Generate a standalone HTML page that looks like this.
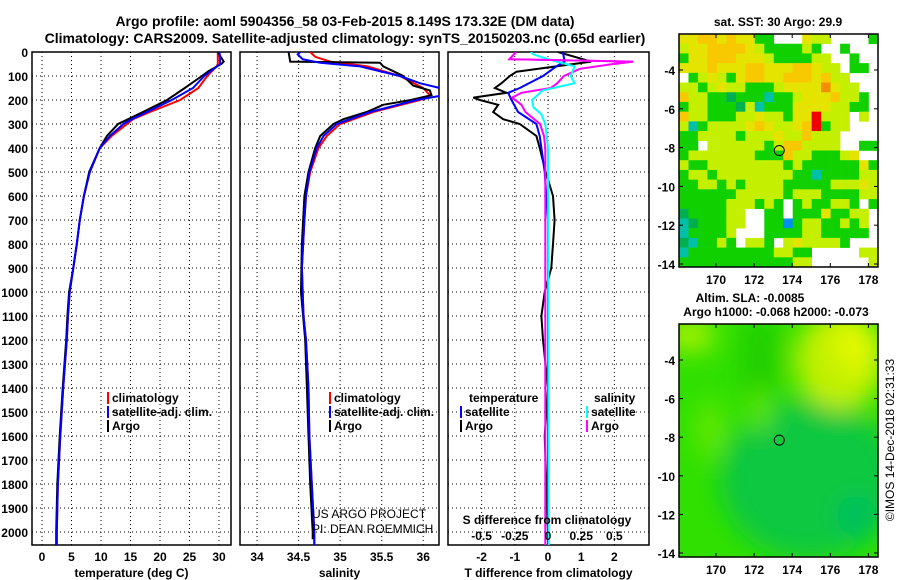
<!DOCTYPE html>
<html><head><meta charset="utf-8">
<style>
html,body{margin:0;padding:0;background:#fff;}
svg{display:block;font-family:"Liberation Sans",sans-serif;}
.b{font-weight:bold;font-size:12px;}
.t{font-weight:bold;font-size:14px;}
</style></head>
<body>
<svg id="s" width="900" height="580" viewBox="0 0 900 580" xmlns="http://www.w3.org/2000/svg">
<text class="t" x="345" y="26" text-anchor="middle">Argo profile: aoml 5904356_58 03-Feb-2015 8.149S 173.32E (DM data)</text>
<text class="t" x="345" y="43" text-anchor="middle">Climatology: CARS2009. Satellite-adjusted climatology: synTS_20150203.nc (0.65d earlier)</text>
<g id="g"></g>
</svg>
<script>
// ---- data ----
const tClimD = [0,50,60,100,150,200,250,280,300,350,400,500,600,700,800,900,1000,1100,1200,1400,1600,1800,2000,2055];
const tClimV = [29.8,29.8,29.6,28,26.5,23.4,18.3,15.4,14.4,11.8,9.8,8.1,7.1,6.4,5.9,5.3,4.7,4.4,4.2,3.6,3.1,2.7,2.5,2.5];
const tArgoD = [0,40,50,80,100,140,150,200,250,300,350,400,500,600,700,800,900,1000,1100,1200,1400,1600,1800,2000,2055];
const tArgoV = [29.8,30.8,30.4,28.2,27.1,24.8,24.2,21.2,17.1,12.9,11,9.8,8.0,7.1,6.4,5.9,5.3,4.6,4.3,4.1,3.5,3.0,2.6,2.4,2.4];
const tSatD = [0,50,100,150,200,250,280,300,350,400,500,600,700,800,900,1000,1100,1200,1400,1600,1800,2000,2055];
const tSatV = [30.1,30.2,27.5,25.6,22,17.8,15.2,13.8,11.5,9.8,8.1,7.1,6.4,5.9,5.3,4.7,4.4,4.2,3.6,3.1,2.7,2.5,2.5];

const sClimD = [0,20,40,60,100,150,180,200,250,300,350,400,500,600,700,900,1100,1200,1400,1600,1800,2000,2055];
const sClimV = [34.64,34.7,34.88,35.33,35.72,36.0,36.08,35.96,35.4,35.0,34.84,34.74,34.64,34.59,34.57,34.54,34.56,34.59,34.62,34.63,34.66,34.69,34.69];
const sArgoD = [0,40,45,60,100,140,160,180,200,220,250,280,300,350,400,500,600,800,1000,1200,1400,1600,1800,2000,2030];
const sArgoV = [34.38,34.4,35.48,35.52,35.76,35.88,36.08,36.1,35.85,35.52,35.32,35.04,34.92,34.76,34.7,34.62,34.57,34.54,34.53,34.58,34.6,34.62,34.64,34.67,34.67];
const sSatD = [0,10,30,45,60,100,130,150,180,200,250,300,350,400,500,600,700,900,1100,1200,1400,1600,1800,2000,2055];
const sSatV = [34.52,34.49,34.55,34.76,35.24,35.72,35.96,36.2,36.25,35.92,35.36,34.96,34.8,34.72,34.63,34.59,34.57,34.54,34.56,34.59,34.62,34.63,34.66,34.69,34.69];

const dTArgoD = [0,40,82,100,130,150,170,190,200,220,250,280,300,350,400,500,600,700,800,900,1000,1100,1200,1400,1600,1800,2000,2055];
const dTArgoV = [0.3,1.3,-0.95,-1.15,-1.4,-1.6,-1.25,-2.25,-2.05,-1.5,-1.65,-1.35,-0.85,-0.35,-0.25,-0.07,0.15,0.2,0.15,0.1,-0.1,-0.2,-0.15,0,-0.1,-0.05,0,0];
const dTSatD = [0,40,60,100,150,170,200,250,300,350,400,500,600,700,2055];
const dTSatV = [0.45,0.5,0.25,-0.15,-0.85,-1.2,-1.1,-0.9,-0.35,-0.25,-0.2,-0.1,-0.05,0,0];
const dSArgoD = [0,30,40,50,70,100,130,150,170,190,220,250,300,350,400,2055];
const dSArgoV = [-0.24,-0.29,0.64,0.49,0.24,0.12,0.07,0.02,-0.2,-0.27,-0.2,-0.17,-0.06,-0.03,-0.02,-0.02];
const dSSatD = [0,10,30,60,100,130,160,200,230,260,300,400,2055];
const dSSatV = [-0.13,-0.11,0,0.2,0.17,0.2,-0.04,-0.12,-0.11,-0.05,-0.02,0,0.005];

const depthTicks = [0,100,200,300,400,500,600,700,800,900,1000,1100,1200,1300,1400,1500,1600,1700,1800,1900,2000];
const tempTicks = [0,5,10,15,20,25,30];
const salTicks = [34,34.5,35,35.5,36];
const dTTicks = [-2,-1,0,1,2];
const dSTicks = [-0.5,-0.25,0,0.25,0.5];
const dSTickLabels = ["-0.5","-0.25","0","0.25","0.5"];
const lonTicks = [170,172,174,176,178];
const latTicks = [-4,-6,-8,-10,-12,-14];
const argoLon = 173.32, argoLat = -8.15;
// SST map categories (rows north->south, cols west->east)
const sstGrid = [
"YYooYoYYggwwwYyywwwwg",
"yYYooooYyggggygwwgwww",
"gYYoooYYYyggggyywwgww",
"YYYoYYYooYYYooYyywggw",
"wgyYygYooYYoooYoyywww",
"yygyYyygggyYYYYOYyyww",
"oyyggdgggcggyYYYoyygw",
"gyygggdycgggYYYYyyggw",
"oyygggyyYyygYYryyywyw",
"ycgyyyyYoYyyYorgyywww",
"ggyyyygyyyYyyoyyywwww",
"ggwyyyyyygyooyyyywwgg",
"gyyyyyyygggoyygggyYww",
"yggyyyyyyyygyggggggYg",
"gyygyyyyyyyyggcggggyy",
"ggyygygyyyygggggyyyYy",
"ggggggyyyyygyyyggggyy",
"gggggyyygygwgyggyygwg",
"dggggyywwggwgggYggyyw",
"cdgggyywwggbgyyggygyw",
"cggggywwwggggyygggggw",
"dcggygwyygwyYyyyygwww",
"cgggggggggyyggwwwwwyy",
"ggggggggggggyywwwwwwy"];
const sstColors = {y:"#c4f000",Y:"#e4e400",o:"#f8c800",O:"#f09000",r:"#f00000",g:"#10d000",d:"#00b050",c:"#00c0a8",b:"#0090f0",w:"#ffffff"};

// ---- helpers ----
const NS="http://www.w3.org/2000/svg";
const G=document.getElementById('g');
function mk(tag,attrs,parent,txt){const e=document.createElementNS(NS,tag);for(const k in attrs)e.setAttribute(k,attrs[k]);if(txt!==undefined)e.textContent=txt;(parent||G).appendChild(e);return e;}
const yD = d => 52 + d*0.24;
const PB = 545;
const xT = v => 42 + v*5.9;
const xS = v => 257 + (v-34)*83.1;
const xdT = v => 548 + v*33.2;
const xdS = v => 548 + v*132.8;

function panel(name,x0,x1,vticks,vx,labels,title,showDepth){
  const g=mk('g',{});
  
  
  depthTicks.forEach(d=>{ if(d>0) mk('line',{x1:x0,x2:x1,y1:yD(d),y2:yD(d),stroke:'#000','stroke-width':1,'stroke-dasharray':'1,3'},g);});
  vticks.forEach(v=>mk('line',{x1:vx(v),x2:vx(v),y1:52,y2:PB,stroke:'#000','stroke-width':1,'stroke-dasharray':'1,3'},g));
  const r=mk('rect',{x:x0,y:52,width:x1-x0,height:PB-52,fill:'none',stroke:'#000','stroke-width':1.5},g);
  
  
  vticks.forEach((v,i)=>{const t=mk('text',{x:vx(v),y:561,'text-anchor':'middle',class:'b'},g,labels[i]);
    
    });
  const tt=mk('text',{x:(x0+x1)/2,y:577,'text-anchor':'middle',class:'b'},g,title);
  
  
  if(showDepth) depthTicks.forEach(d=>{const t=mk('text',{x:28,y:yD(d)+5,'text-anchor':'end',class:'b'},g,String(d));
    
    });
  return g;
}
function line(name,D,V,xf,color,w,clipId){
  const pts=D.map((d,i)=>xf(V[i]).toFixed(1)+','+yD(d).toFixed(1)).join(' ');
  const p=mk('polyline',{points:pts,fill:'none',stroke:color,'stroke-width':w,'clip-path':'url(#'+clipId+')'});
  
  
}
const defs=mk('defs',{});
[['c1',32,231],['c2',240,439],['c3',448,649]].forEach(c=>{const cp=mk('clipPath',{id:c[0]},defs);mk('rect',{x:c[1],y:52,width:c[2]-c[1],height:PB-52},cp);});

panel('temperature-panel',32,231,tempTicks,xT,tempTicks.map(String),'temperature (deg C)',true);
line('temp-climatology-line',tClimD,tClimV,xT,'#f00',2,'c1');
line('temp-argo-line',tArgoD,tArgoV,xT,'#000',2,'c1');
line('temp-satellite-line',tSatD,tSatV,xT,'#00f',2,'c1');

panel('salinity-panel',240,439,salTicks,xS,salTicks.map(String),'salinity',false);
line('sal-climatology-line',sClimD,sClimV,xS,'#f00',2,'c2');
line('sal-argo-line',sArgoD,sArgoV,xS,'#000',2,'c2');
line('sal-satellite-line',sSatD,sSatV,xS,'#00f',2,'c2');

panel('difference-panel',448,649,dTTicks,xdT,dTTicks.map(String),'T difference from climatology',false);
line('dT-argo-line',dTArgoD,dTArgoV,xdT,'#000',2,'c3');
line('dT-satellite-line',dTSatD,dTSatV,xdT,'#00f',2,'c3');
line('dS-argo-line',dSArgoD,dSArgoV,xdS,'#f0f',2,'c3');
line('dS-satellite-line',dSSatD,dSSatV,xdS,'#0ff',2,'c3');
line('dS-argo-line-over',dSArgoD.slice(0,4),dSArgoV.slice(0,4),xdS,'#f0f',2,'c3');

{const t=mk('text',{x:547,y:524,'text-anchor':'middle',class:'b'},G,'S difference from climatology');

dSTicks.forEach((v,i)=>{const e=mk('text',{x:xdS(v),y:540,'text-anchor':'middle',class:'b'},G,dSTickLabels[i]);
});}

function legend(x,y,color,label){
  const g=mk('g',{});
  
  
  if(color) mk('rect',{x:x,y:y-10,width:2,height:12,fill:color},g);
  mk('text',{x:x+(color?5:0),y:y,class:'b'},g,label);
}
legend(107,402,'#f00','climatology');legend(107,416,'#00f','satellite-adj. clim.');legend(107,430,'#000','Argo');
legend(329,402,'#f00','climatology');legend(329,416,'#00f','satellite-adj. clim.');legend(329,430,'#000','Argo');
legend(469,402,null,'temperature');legend(460,416,'#00f','satellite');legend(460,430,'#000','Argo');
legend(594,402,null,'salinity');legend(586,416,'#0ff','satellite');legend(586,430,'#f0f','Argo');
{const a=mk('text',{x:312,y:518,'font-size':12},G,'US ARGO PROJECT');
const b=mk('text',{x:312,y:533,'font-size':12},G,'PI: DEAN ROEMMICH');}

// ---- maps ----
const MX0=679,MX1=878;
const xLon=v=>716+(v-170)*19.05;
function mapFrame(name,y0,y1,yLat){
  const g=mk('g',{});
  
  
  mk('rect',{x:MX0,y:y0,width:MX1-MX0,height:y1-y0,fill:'none',stroke:'#000','stroke-width':1.5},g);
  lonTicks.forEach(v=>{mk('line',{x1:xLon(v),x2:xLon(v),y1:y0,y2:y0+4,stroke:'#000'},g);mk('line',{x1:xLon(v),x2:xLon(v),y1:y1,y2:y1-4,stroke:'#000'},g);
    mk('text',{x:xLon(v),y:y1+17,'text-anchor':'middle',class:'b'},g,String(v));});
  latTicks.forEach(v=>{mk('line',{x1:MX0,x2:MX0+4,y1:yLat(v),y2:yLat(v),stroke:'#000'},g);mk('line',{x1:MX1,x2:MX1-4,y1:yLat(v),y2:yLat(v),stroke:'#000'},g);
    mk('text',{x:MX0-4,y:yLat(v)+5,'text-anchor':'end',class:'b'},g,String(v));});
  mk('circle',{cx:xLon(argoLon),cy:yLat(argoLat),r:5,fill:'none',stroke:'#000','stroke-width':1},g);
}
const yLat1=v=>70+(-4-v)*19.4;
{const g=mk('g',{});
const rows=sstGrid.length, cols=sstGrid[0].length, cw=(MX1-MX0)/cols, ch=(267-34)/rows;
sstGrid.forEach((row,r)=>{for(let c=0;c<cols;c++){const col=sstColors[row[c]];if(col==='#ffffff')continue;
  const e=mk('rect',{x:(MX0+c*cw).toFixed(2),y:(34+r*ch).toFixed(2),width:(cw+0.3).toFixed(2),height:(ch+0.3).toFixed(2),fill:col},g);
  }});}
mapFrame('sst-map',34,267,yLat1);
{const t=mk('text',{x:778,y:26,'text-anchor':'middle',class:'b'},G,'sat. SST: 30 Argo: 29.9');}

const yLat2=v=>360+(-4-v)*19.3;
{const g=mk('g',{});
const f=mk('filter',{id:'bl',x:'-50%',y:'-50%',width:'200%',height:'200%'},defs);mk('feGaussianBlur',{stdDeviation:12},f);
const cp=mk('clipPath',{id:'cm2'},defs);mk('rect',{x:MX0,y:324,width:MX1-MX0,height:233},cp);
const gg=mk('g',{'clip-path':'url(#cm2)'},g);
mk('rect',{x:MX0,y:324,width:MX1-MX0,height:233,fill:'#30e000'},gg);
const gb=mk('g',{filter:'url(#bl)'},gg);
mk('ellipse',{cx:810,cy:480,rx:90,ry:80,fill:'#10c840'},gb);
mk('ellipse',{cx:760,cy:360,rx:22,ry:50,fill:'#20d000'},gb);
mk('ellipse',{cx:840,cy:360,rx:45,ry:50,fill:'#c0f000'},gb);
mk('ellipse',{cx:855,cy:345,rx:22,ry:30,fill:'#e0f800'},gb);
mk('ellipse',{cx:690,cy:335,rx:25,ry:18,fill:'#a0f000'},gb);
mk('ellipse',{cx:710,cy:430,rx:15,ry:30,fill:'#60e800'},gb);
mk('ellipse',{cx:760,cy:410,rx:10,ry:22,fill:'#60e800'},gb);
mk('ellipse',{cx:856,cy:515,rx:20,ry:20,fill:'#00c060'},gb);}
mapFrame('sla-map',324,557,yLat2);
{const a=mk('text',{x:750,y:302,'text-anchor':'middle',class:'b'},G,'Altim. SLA: -0.0085');
const b=mk('text',{x:776,y:316,'text-anchor':'middle',class:'b'},G,'Argo h1000: -0.068 h2000: -0.073');
const c=mk('text',{x:0,y:0,'font-size':12,'text-anchor':'middle',transform:'translate(894,440) rotate(-90)'},G,'©IMOS 14-Dec-2018 02:31:33');}
</script>
</body></html>
